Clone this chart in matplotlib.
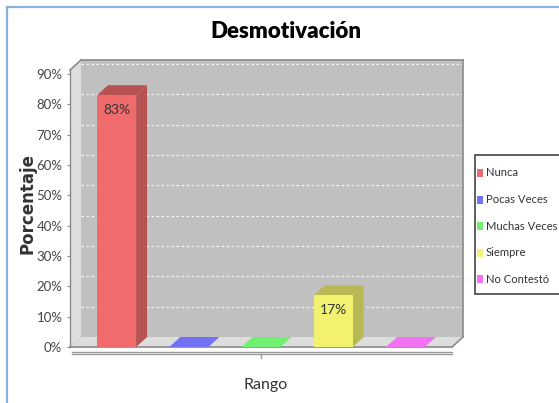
import matplotlib
matplotlib.use("Agg")
import matplotlib.pyplot as plt
import matplotlib.colors as mcolors
from matplotlib.patches import Polygon, Rectangle
from matplotlib.lines import Line2D

W, H = 559, 403
DPI = 100

titulo = "Desmotivación"
etiqueta_x = "Rango"
etiqueta_y = "Porcentaje"
categorias = ["Nunca", "Pocas Veces", "Muchas Veces", "Siempre", "No Contestó"]
porcentajes = [83, 0, 0, 17, 0]
marcas_y = [0, 10, 20, 30, 40, 50, 60, 70, 80, 90]
colores = ["#f06c6c", "#7272f4", "#72f072", "#f2f270", "#f272f2"]

FUENTE = ["Lato", "DejaVu Sans"]
GRIS = "#8a8a8a"


def fx(x):
    return x / W


def fy(y):
    return 1 - y / H


def oscurecer(color, f=0.76):
    r, g, b = mcolors.to_rgb(color)
    return (r * f, g * f, b * f)


fig = plt.figure(figsize=(W / DPI, H / DPI), dpi=DPI)
fig.patch.set_facecolor("white")

# marco azul del panel
fig.add_artist(Line2D([fx(7), fx(7)], [fy(7), fy(H + 5)], color="#8cb0dc", lw=1.6))
fig.add_artist(Line2D([fx(7), fx(W + 5)], [fy(7), fy(7)], color="#8cb0dc", lw=1.6))

# plano frontal del grafico 3D
izq, der, arriba, abajo = 70, 452, 70, 347
ax = fig.add_axes([fx(izq), fy(abajo), (der - izq) / W, (abajo - arriba) / H])
ax.set_facecolor("none")

x0, x1 = -0.645, len(categorias) - 1 + 0.645
ytop = 91.3
ax.set_xlim(x0, x1)
ax.set_ylim(0, ytop)

# profundidad en unidades de datos (11 px a la derecha, 10 px arriba)
dx = 11 * (x1 - x0) / (der - izq)
dy = 10 * ytop / (abajo - arriba)

# paredes
ax.add_patch(Rectangle((x0 + dx, dy), x1 - x0, ytop, facecolor="#c0c0c0",
                       edgecolor="none", zorder=0, clip_on=False))
ax.add_patch(Polygon([(x0, 0), (x0 + dx, dy), (x0 + dx, ytop + dy), (x0, ytop)],
                     facecolor="#dddddd", edgecolor="none", zorder=0, clip_on=False))
ax.add_patch(Polygon([(x0, 0), (x1, 0), (x1 + dx, dy), (x0 + dx, dy)],
                     facecolor="#dddddd", edgecolor="none", zorder=0, clip_on=False))

for t in marcas_y[1:]:
    ax.plot([x0 + dx, x1 + dx], [t + dy, t + dy], color="white", lw=0.9,
            ls=(0, (2, 2)), alpha=0.85, zorder=1, clip_on=False)

# contorno
contorno = [
    ([x0, x0 + dx], [ytop, ytop + dy]),
    ([x0 + dx, x1 + dx], [ytop + dy, ytop + dy]),
    ([x1 + dx, x1 + dx], [ytop + dy, dy]),
    ([x1 + dx, x1], [dy, 0]),
    ([x1, x0], [0, 0]),
]
for xs, ys in contorno:
    ax.plot(xs, ys, color=GRIS, lw=1.2, zorder=2, clip_on=False)
ax.plot([x0, x0 + dx], [0, dy], color="#c8c8c8", lw=0.8, ls=(0, (2, 2)),
        zorder=1, clip_on=False)

# barras 3D
ancho = 0.54
for i, (v, c) in enumerate(zip(porcentajes, colores)):
    a, b = i - ancho / 2, i + ancho / 2
    lado = oscurecer(c)
    if v > 0:
        ax.bar(i, v, width=ancho, color=c, edgecolor="none", zorder=4)
        ax.add_patch(Polygon([(b, 0), (b + dx, dy), (b + dx, v + dy), (b, v)],
                             facecolor=lado, edgecolor="none", zorder=3, clip_on=False))
        ax.add_patch(Polygon([(a, v), (b, v), (b + dx, v + dy), (a + dx, v + dy)],
                             facecolor=lado, edgecolor="none", zorder=3, clip_on=False))
        ax.annotate(f"{v}%", (i, v), xytext=(0, -15), textcoords="offset pixels",
                    ha="center", va="center", fontsize=10, color="#333333",
                    family=FUENTE, zorder=5)
    else:
        ax.add_patch(Polygon([(a, 0), (b, 0), (b + dx, dy), (a + dx, dy)],
                             facecolor=c, edgecolor="none", zorder=3, clip_on=False))

# ejes
for s in ["top", "right", "bottom"]:
    ax.spines[s].set_visible(False)
ax.spines["left"].set_color(GRIS)
ax.spines["left"].set_linewidth(1.0)
ax.set_xticks([])
ax.set_yticks(marcas_y)
ax.set_yticklabels([f"{t}%" for t in marcas_y])
ax.tick_params(axis="y", length=2.5, width=0.8, color=GRIS, pad=3,
               labelsize=9.5, labelcolor="#444444")
for lbl in ax.get_yticklabels():
    lbl.set_family(FUENTE)

# eje de categorias (doble linea y marca central)
fig.add_artist(Line2D([fx(72), fx(der)], [fy(351.5), fy(351.5)], color="#999999", lw=1.0))
fig.add_artist(Line2D([fx(72), fx(der)], [fy(354), fy(354)], color="#999999", lw=1.0))
fig.add_artist(Line2D([fx(261), fx(261)], [fy(354), fy(358)], color="#999999", lw=1.0))

fig.text(fx(286), fy(31), titulo, ha="center", va="center", fontsize=16,
         fontweight="heavy", family=FUENTE, color="black")
fig.text(fx(266), fy(385), etiqueta_x, ha="center", va="center", fontsize=11.5,
         family=FUENTE, color="#333333")
fig.text(fx(28), fy(204), etiqueta_y, ha="center", va="center", fontsize=12,
         fontweight="bold", rotation=90, family="DejaVu Sans", color="#333333")

# leyenda
fig.add_artist(Rectangle((fx(475), fy(294)), (W + 10 - 475) / W, (294 - 155) / H,
                         transform=fig.transFigure, facecolor="white",
                         edgecolor="#444444", lw=1.2))
for k, (nombre, c) in enumerate(zip(categorias, colores)):
    yc = 173 + k * 26.6
    fig.add_artist(Rectangle((fx(477), fy(yc + 4)), 6 / W, 8 / H,
                             transform=fig.transFigure, facecolor=c, edgecolor="none"))
    fig.text(fx(486), fy(yc), nombre, ha="left", va="center", fontsize=8.1,
             family=FUENTE, color="#333333")

fig.savefig("out.png", dpi=DPI)
